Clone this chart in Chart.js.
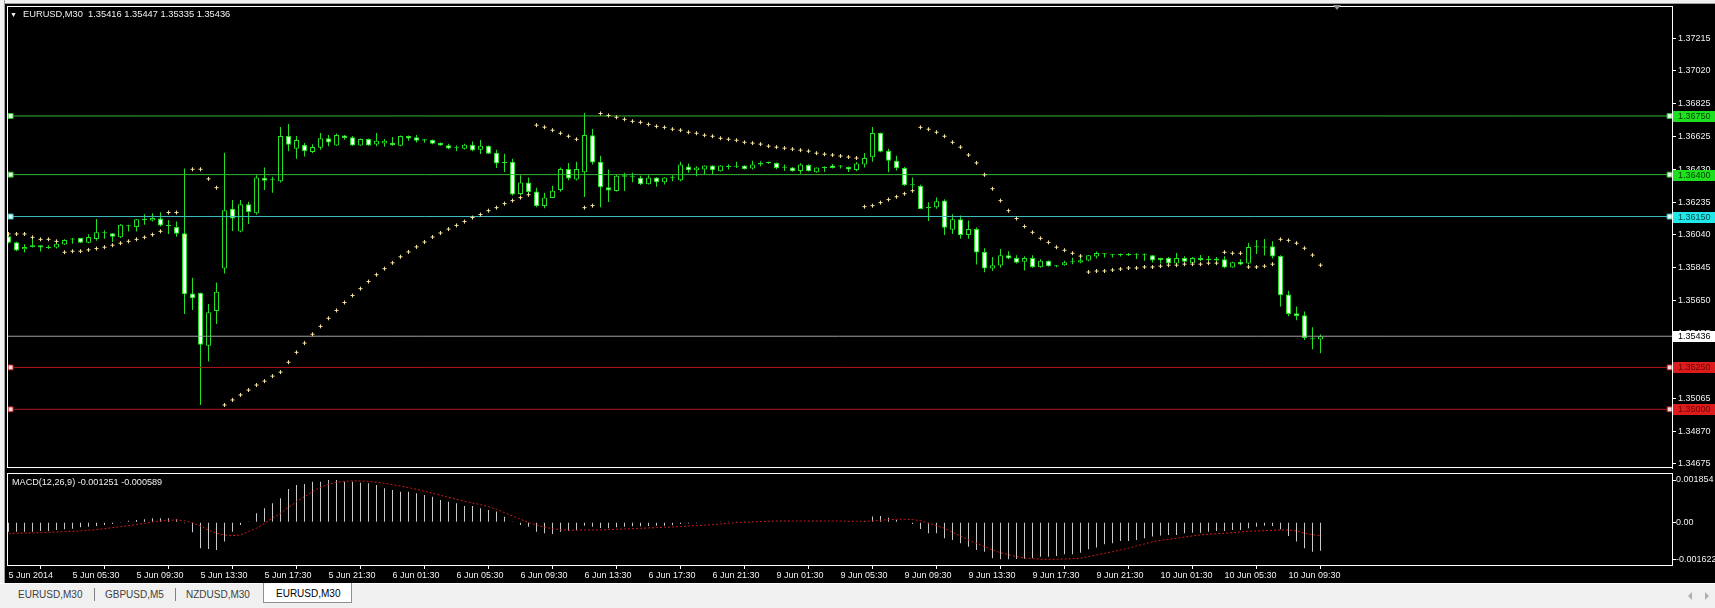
<!DOCTYPE html>
<html>
<head>
<meta charset="utf-8">
<title>EURUSD,M30</title>
<script src="https://cdn.jsdelivr.net/npm/chart.js@4.4.1/dist/chart.umd.min.js"></script>
<style>
html,body{margin:0;padding:0;background:#000;overflow:hidden}
#wrap{position:relative;width:1715px;height:608px;background:#000;font-family:"Liberation Sans",Arial,sans-serif}
canvas{position:absolute;left:0}
#main{top:0}
#macd{top:473px}
.txt{position:absolute;color:#f0f0f0;font-size:9px;line-height:11px;white-space:pre}
#topbar{position:absolute;left:0;top:0;width:1715px;height:3px;background:#f0f0f0;border-bottom:1px solid #a0a0a0}
#leftbar{position:absolute;left:0;top:0;width:4px;height:584px;background:#f0f0f0;border-right:1px solid #a0a0a0}
#shift{position:absolute;left:1333px;top:5px;width:0;height:0;border-left:4px solid transparent;border-right:4px solid transparent;border-top:5px solid #909090}
#tabs{position:absolute;left:0;top:583px;width:1715px;height:25px;background:#f0f0f0;border-top:1px solid #fff}
.tab{position:absolute;top:5px;font-size:10px;line-height:12px;color:#404040;white-space:pre}
.sep{position:absolute;top:4px;width:1px;height:13px;background:#808080}
#active{position:absolute;left:263px;top:-1px;width:87px;height:19px;background:#fff;border:1px solid #909090;border-top:none}
#active span{position:absolute;left:12px;top:5px;font-size:10px;line-height:12px;color:#000}
.arrow{position:absolute;top:8px;width:0;height:0;border-top:4px solid transparent;border-bottom:4px solid transparent}
</style>
</head>
<body>
<div id="wrap">
  <canvas id="main" width="1715" height="473"></canvas>
  <canvas id="macd" width="1715" height="111"></canvas>
  <div id="topbar"></div>
  <div id="leftbar"></div>
  <div id="shift"></div>
  <div class="txt" style="left:10px;top:9px;font-size:7px;">▼</div>
  <div class="txt" style="left:23px;top:9px;font-size:9.3px;">EURUSD,M30  1.35416 1.35447 1.35335 1.35436</div>
  <div class="txt" style="left:12px;top:477px;font-size:9.1px;">MACD(12,26,9) -0.001251 -0.000589</div>
  <div id="tabs">
    <span class="tab" style="left:18px">EURUSD,M30</span>
    <div class="sep" style="left:94px"></div>
    <span class="tab" style="left:105px">GBPUSD,M5</span>
    <div class="sep" style="left:175px"></div>
    <span class="tab" style="left:186px">NZDUSD,M30</span>
    <div id="active"><span>EURUSD,M30</span></div>
    <div class="arrow" style="left:1688px;border-right:4px solid #b0b0b0"></div>
    <div class="arrow" style="left:1705px;border-left:4px solid #b0b0b0"></div>
  </div>
</div>
<script>
// EURUSD M30, 5 Jun 01:30 .. 10 Jun 11:30 (165 bars)
const opens = [
1.36032,1.35997,1.35955,1.35967,1.35979,1.35963,1.35965,1.35983,1.36014,1.36022,
1.35994,1.36016,1.36053,1.36050,1.36026,1.36093,1.36087,1.36130,1.36126,1.36138,
1.36093,1.36087,1.36050,1.35691,1.35695,1.35379,1.35586,1.35840,1.36197,1.36061,
1.36223,1.36170,1.36381,1.36367,1.36361,1.36631,1.36554,1.36578,1.36535,1.36560,
1.36617,1.36574,1.36633,1.36623,1.36574,1.36613,1.36580,1.36586,1.36590,1.36572,
1.36631,1.36623,1.36611,1.36607,1.36590,1.36576,1.36558,1.36554,1.36578,1.36548,
1.36572,1.36531,1.36470,1.36477,1.36284,1.36353,1.36300,1.36213,1.36260,1.36308,
1.36434,1.36371,1.36414,1.36635,1.36477,1.36325,1.36302,1.36396,1.36385,1.36381,
1.36343,1.36383,1.36355,1.36383,1.36367,1.36448,1.36426,1.36430,1.36454,1.36420,
1.36446,1.36448,1.36454,1.36436,1.36460,1.36470,1.36470,1.36442,1.36442,1.36422,
1.36458,1.36414,1.36440,1.36454,1.36452,1.36446,1.36428,1.36460,1.36503,1.36649,
1.36543,1.36483,1.36440,1.36337,1.36334,1.36209,1.36205,1.36245,1.36071,1.36134,
1.36040,1.36075,1.35939,1.35840,1.35858,1.35919,1.35902,1.35881,1.35902,1.35848,
1.35886,1.35854,1.35860,1.35878,1.35876,1.35888,1.35911,1.35931,1.35925,1.35921,
1.35927,1.35923,1.35923,1.35919,1.35902,1.35902,1.35870,1.35902,1.35872,1.35902,
1.35892,1.35898,1.35896,1.35846,1.35880,1.35870,1.35973,1.35967,1.35973,1.35915,
1.35685,1.35573,1.35561,1.35424,1.35416];
const highs = [
1.36046,1.35999,1.35985,1.36032,1.35979,1.35979,1.35993,1.36014,1.36022,1.36024,
1.36044,1.36136,1.36069,1.36051,1.36105,1.36101,1.36136,1.36164,1.36170,1.36176,
1.36130,1.36120,1.36436,1.35785,1.35695,1.35628,1.35756,1.36531,1.36249,1.36249,
1.36239,1.36397,1.36442,1.36387,1.36684,1.36702,1.36631,1.36588,1.36582,1.36649,
1.36637,1.36645,1.36637,1.36631,1.36615,1.36615,1.36649,1.36613,1.36625,1.36633,
1.36633,1.36637,1.36613,1.36609,1.36591,1.36584,1.36574,1.36584,1.36597,1.36607,
1.36574,1.36548,1.36525,1.36495,1.36397,1.36383,1.36322,1.36292,1.36334,1.36442,
1.36470,1.36477,1.36767,1.36673,1.36513,1.36430,1.36399,1.36412,1.36412,1.36393,
1.36397,1.36385,1.36385,1.36397,1.36477,1.36466,1.36450,1.36456,1.36456,1.36456,
1.36462,1.36477,1.36456,1.36483,1.36480,1.36477,1.36472,1.36460,1.36446,1.36468,
1.36462,1.36443,1.36450,1.36464,1.36456,1.36448,1.36476,1.36529,1.36684,1.36652,
1.36554,1.36513,1.36446,1.36383,1.36340,1.36235,1.36263,1.36253,1.36164,1.36156,
1.36126,1.36085,1.35961,1.35908,1.35957,1.35943,1.35919,1.35913,1.35919,1.35896,
1.35888,1.35860,1.35886,1.35904,1.35908,1.35921,1.35941,1.35933,1.35927,1.35929,
1.35933,1.35931,1.35929,1.35921,1.35904,1.35908,1.35933,1.35913,1.35908,1.35921,
1.35915,1.35908,1.35913,1.35880,1.35896,1.35993,1.36010,1.36016,1.36002,1.35919,
1.35708,1.35614,1.35584,1.35490,1.35447];
const lows = [
1.35989,1.35943,1.35935,1.35965,1.35941,1.35957,1.35959,1.35981,1.35988,1.35992,
1.35990,1.36006,1.36018,1.35998,1.36022,1.36061,1.36061,1.36101,1.36120,1.36091,
1.36046,1.36030,1.35569,1.35592,1.35026,1.35286,1.35509,1.35810,1.36064,1.36057,
1.36105,1.36160,1.36308,1.36292,1.36353,1.36539,1.36495,1.36508,1.36529,1.36548,
1.36570,1.36572,1.36608,1.36572,1.36572,1.36572,1.36570,1.36566,1.36572,1.36570,
1.36602,1.36591,1.36590,1.36582,1.36572,1.36552,1.36540,1.36550,1.36540,1.36523,
1.36523,1.36440,1.36416,1.36276,1.36278,1.36284,1.36205,1.36199,1.36259,1.36298,
1.36367,1.36365,1.36266,1.36461,1.36205,1.36237,1.36300,1.36302,1.36355,1.36338,
1.36341,1.36328,1.36341,1.36361,1.36361,1.36412,1.36390,1.36402,1.36400,1.36418,
1.36430,1.36440,1.36430,1.36430,1.36450,1.36464,1.36432,1.36422,1.36418,1.36406,
1.36418,1.36412,1.36416,1.36436,1.36436,1.36416,1.36420,1.36442,1.36477,1.36533,
1.36414,1.36424,1.36334,1.36318,1.36193,1.36123,1.36197,1.36040,1.36046,1.36018,
1.36018,1.35864,1.35817,1.35825,1.35844,1.35896,1.35870,1.35828,1.35844,1.35844,
1.35852,1.35848,1.35856,1.35866,1.35872,1.35884,1.35899,1.35905,1.35905,1.35911,
1.35915,1.35897,1.35887,1.35876,1.35870,1.35866,1.35866,1.35878,1.35868,1.35884,
1.35884,1.35884,1.35842,1.35844,1.35860,1.35864,1.35927,1.35917,1.35899,1.35614,
1.35555,1.35531,1.35413,1.35359,1.35335];
const closes = [
1.35994,1.35947,1.35969,1.35979,1.35965,1.35962,1.35987,1.36010,1.36013,1.35994,
1.36028,1.36057,1.36050,1.36030,1.36101,1.36092,1.36134,1.36129,1.36142,1.36097,
1.36093,1.36047,1.35687,1.35663,1.35385,1.35579,1.35702,1.36187,1.36138,1.36223,
1.36177,1.36383,1.36364,1.36366,1.36631,1.36578,1.36607,1.36539,1.36565,1.36617,
1.36591,1.36637,1.36619,1.36574,1.36613,1.36574,1.36602,1.36602,1.36576,1.36631,
1.36615,1.36602,1.36603,1.36584,1.36574,1.36556,1.36557,1.36578,1.36544,1.36572,
1.36525,1.36466,1.36469,1.36282,1.36353,1.36296,1.36213,1.36264,1.36304,1.36434,
1.36377,1.36434,1.36637,1.36473,1.36325,1.36306,1.36394,1.36387,1.36384,1.36343,
1.36383,1.36355,1.36383,1.36382,1.36460,1.36426,1.36442,1.36454,1.36426,1.36454,
1.36445,1.36447,1.36432,1.36460,1.36470,1.36469,1.36438,1.36441,1.36420,1.36460,
1.36420,1.36442,1.36439,1.36440,1.36448,1.36430,1.36466,1.36499,1.36649,1.36537,
1.36483,1.36438,1.36337,1.36336,1.36195,1.36199,1.36241,1.36083,1.36134,1.36040,
1.36075,1.35935,1.35840,1.35860,1.35919,1.35899,1.35875,1.35902,1.35848,1.35886,
1.35854,1.35853,1.35878,1.35884,1.35890,1.35919,1.35933,1.35925,1.35919,1.35920,
1.35919,1.35922,1.35922,1.35888,1.35890,1.35870,1.35902,1.35881,1.35902,1.35890,
1.35891,1.35888,1.35846,1.35878,1.35864,1.35969,1.35967,1.35966,1.35911,1.35681,
1.35569,1.35557,1.35426,1.35418,1.35436];
// Parabolic SAR
const sar = [
1.36046,1.36046,1.36046,1.36026,1.36014,1.36014,1.36002,1.35937,1.35943,1.35943,
1.35951,1.35959,1.35967,1.35979,1.35991,1.36002,1.36014,1.36026,1.36042,1.36062,
1.36174,1.36174,1.36032,1.36432,1.36432,1.36375,1.36322,1.35026,1.35056,1.35086,
1.35115,1.35145,1.35168,1.35198,1.35222,1.35281,1.35340,1.35395,1.35448,1.35495,
1.35543,1.35590,1.35637,1.35679,1.35720,1.35762,1.35803,1.35839,1.35874,1.35910,
1.35939,1.35969,1.35998,1.36028,1.36052,1.36075,1.36097,1.36120,1.36144,1.36162,
1.36185,1.36203,1.36227,1.36245,1.36263,1.36280,1.36695,1.36683,1.36665,1.36647,
1.36629,1.36611,1.36203,1.36215,1.36765,1.36753,1.36742,1.36730,1.36718,1.36712,
1.36700,1.36688,1.36682,1.36671,1.36665,1.36653,1.36647,1.36635,1.36629,1.36617,
1.36611,1.36605,1.36593,1.36588,1.36582,1.36570,1.36564,1.36558,1.36552,1.36546,
1.36540,1.36528,1.36522,1.36517,1.36511,1.36505,1.36499,1.36209,1.36215,1.36233,
1.36251,1.36268,1.36286,1.36304,1.36682,1.36671,1.36653,1.36629,1.36593,1.36564,
1.36517,1.36470,1.36399,1.36316,1.36245,1.36185,1.36138,1.36091,1.36056,1.36020,
1.35996,1.35967,1.35949,1.35931,1.35914,1.35819,1.35825,1.35825,1.35831,1.35837,
1.35843,1.35843,1.35849,1.35849,1.35854,1.35860,1.35860,1.35866,1.35866,1.35866,
1.35872,1.35872,1.35937,1.35931,1.35931,1.35849,1.35849,1.35854,1.35866,1.36014,
1.36008,1.35991,1.35961,1.35920,1.35860];
// MACD(12,26,9): main (histogram) and signal
const macdMain = [
-0.000409,-0.000409,-0.000409,-0.000409,-0.000380,-0.000380,-0.000336,-0.000307,-0.000278,-0.000219,
-0.000190,-0.000161,-0.000117,-0.000073,-0.000010,0.000073,0.000102,0.000131,0.000175,0.000175,
0.000175,0.000131,-0.000044,-0.000438,-0.001140,-0.001169,-0.001213,-0.000847,-0.000409,-0.000117,
0.000030,0.000394,0.000614,0.000833,0.001052,0.001461,0.001636,0.001680,0.001782,0.001782,
0.001854,0.001854,0.001782,0.001782,0.001738,0.001709,0.001636,0.001490,0.001417,0.001344,
0.001344,0.001271,0.001198,0.001125,0.000979,0.000906,0.000833,0.000716,0.000716,0.000614,
0.000541,0.000468,0.000248,0.000015,-0.000117,-0.000190,-0.000409,-0.000482,-0.000511,-0.000409,
-0.000380,-0.000336,-0.000146,-0.000190,-0.000248,-0.000263,-0.000219,-0.000190,-0.000175,-0.000175,
-0.000161,-0.000146,-0.000146,-0.000131,-0.000073,-0.000058,-0.000044,0.000000,0.000020,0.000030,
0.000030,0.000040,0.000040,0.000040,0.000040,0.000030,0.000030,0.000030,0.000020,0.000020,
0.000030,0.000030,0.000020,0.000020,0.000020,0.000010,0.000020,0.000060,0.000250,0.000280,
0.000204,0.000102,0.000000,-0.000073,-0.000292,-0.000482,-0.000482,-0.000701,-0.000774,-0.000920,
-0.001067,-0.001213,-0.001286,-0.001578,-0.001622,-0.001622,-0.001607,-0.001593,-0.001563,-0.001505,
-0.001505,-0.001476,-0.001403,-0.001403,-0.001330,-0.001184,-0.001110,-0.000964,-0.000920,-0.000818,
-0.000818,-0.000774,-0.000701,-0.000628,-0.000584,-0.000555,-0.000555,-0.000482,-0.000453,-0.000453,
-0.000409,-0.000380,-0.000380,-0.000336,-0.000336,-0.000263,-0.000190,-0.000146,-0.000161,-0.000307,
-0.000599,-0.000847,-0.001140,-0.001286,-0.001251];
const macdSignal = [
-0.000482,-0.000482,-0.000468,-0.000468,-0.000453,-0.000438,-0.000424,-0.000409,-0.000394,-0.000380,
-0.000351,-0.000321,-0.000278,-0.000234,-0.000190,-0.000146,-0.000102,-0.000044,0.000015,0.000058,
0.000088,0.000102,0.000073,-0.000015,-0.000161,-0.000336,-0.000482,-0.000555,-0.000584,-0.000555,
-0.000409,-0.000263,-0.000044,0.000175,0.000394,0.000657,0.000906,0.001125,0.001344,0.001534,
0.001666,0.001753,0.001797,0.001812,0.001812,0.001797,0.001753,0.001709,0.001651,0.001592,
0.001519,0.001446,0.001359,0.001271,0.001183,0.001096,0.001008,0.000920,0.000847,0.000774,
0.000687,0.000570,0.000424,0.000278,0.000131,-0.000015,-0.000117,-0.000219,-0.000278,-0.000321,
-0.000351,-0.000351,-0.000336,-0.000336,-0.000336,-0.000321,-0.000307,-0.000292,-0.000278,-0.000263,
-0.000248,-0.000234,-0.000219,-0.000205,-0.000190,-0.000161,-0.000146,-0.000131,-0.000102,-0.000073,
-0.000044,-0.000015,0.000000,0.000015,0.000029,0.000044,0.000058,0.000058,0.000058,0.000058,
0.000058,0.000058,0.000058,0.000058,0.000058,0.000044,0.000044,0.000044,0.000058,0.000088,
0.000117,0.000131,0.000131,0.000117,0.000073,-0.000044,-0.000146,-0.000263,-0.000438,-0.000599,
-0.000774,-0.000920,-0.001067,-0.001213,-0.001330,-0.001417,-0.001505,-0.001563,-0.001592,-0.001622,
-0.001622,-0.001622,-0.001607,-0.001592,-0.001578,-0.001505,-0.001432,-0.001359,-0.001286,-0.001213,
-0.001140,-0.001037,-0.000950,-0.000847,-0.000789,-0.000745,-0.000701,-0.000643,-0.000599,-0.000555,
-0.000526,-0.000497,-0.000482,-0.000453,-0.000424,-0.000394,-0.000380,-0.000365,-0.000351,-0.000336,
-0.000336,-0.000380,-0.000482,-0.000541,-0.000589];
const timeLabels = ['5 Jun 2014','5 Jun 05:30','5 Jun 09:30','5 Jun 13:30','5 Jun 17:30','5 Jun 21:30',
  '6 Jun 01:30','6 Jun 05:30','6 Jun 09:30','6 Jun 13:30','6 Jun 17:30','6 Jun 21:30',
  '9 Jun 01:30','9 Jun 05:30','9 Jun 09:30','9 Jun 13:30','9 Jun 17:30','9 Jun 21:30',
  '10 Jun 01:30','10 Jun 05:30','10 Jun 09:30'];
const priceTicks = [1.37215,1.37020,1.36825,1.36625,1.36430,1.36235,1.36040,1.35845,1.35650,1.35455,1.35260,1.35065,1.34870,1.34675];
const macdTicks = [0.001854, 0, -0.001622];
const levels = [1.36750, 1.36400, 1.36150, 1.35250, 1.35000];
const bid = 1.35436;

const GREEN = '#22e022';
const X_MIN = -0.1875, X_MAX = 207.9375;   // 8 px per bar
const FONT = {family: 'Liberation Sans', size: 9};
const levelStyle = [
  {line: '#34b834', tag: '#1ee01e', text: '#003c00', fill: '#e0ffe0'},
  {line: '#34b834', tag: '#1ee01e', text: '#003c00', fill: '#e0ffe0'},
  {line: '#40c0c0', tag: '#20e8e8', text: '#004848', fill: '#e0ffff'},
  {line: '#b01616', tag: '#dc1c1c', text: '#700000', fill: '#ffe0e0'},
  {line: '#b01616', tag: '#dc1c1c', text: '#700000', fill: '#ffe0e0'}
];

const idx = opens.map((_, i) => i);

const frame = {
  id: 'frame',
  beforeDraw(c) {
    const ctx = c.ctx;
    ctx.save(); ctx.fillStyle = '#000'; ctx.fillRect(0, 0, c.width, c.height); ctx.restore();
  },
  afterDraw(c) {
    const a = c.chartArea, ctx = c.ctx;
    ctx.save();
    ctx.strokeStyle = '#ffffff'; ctx.lineWidth = 1;
    ctx.strokeRect(a.left + 0.5, a.top + 0.5, a.right - a.left, a.bottom - a.top - (c.canvas.id === 'main' ? 1 : 0));
    if (c.canvas.id === 'main') {
      const y = c.scales.y;
      const tags = levels.map((v, k) => ({v, bg: levelStyle[k].tag, fg: levelStyle[k].text}));
      tags.push({v: bid, bg: '#ffffff', fg: '#000000'});
      ctx.font = '9px "Liberation Sans"';
      ctx.textBaseline = 'middle';
      tags.forEach(t => {
        const py = Math.round(y.getPixelForValue(t.v));
        ctx.fillStyle = t.bg;
        ctx.fillRect(a.right + 1, py - 5, c.width - a.right - 1, 11);
        ctx.fillStyle = t.fg;
        ctx.fillText(t.v.toFixed(5), a.right + 6, py + 0.5);
      });
    }
    ctx.restore();
  }
};

const levelSets = levels.map((v, k) => ({
  type: 'line', order: 1,
  data: [{x: X_MIN - 1, y: v}, {x: X_MIN + 0.45, y: v}, {x: X_MAX - 0.3, y: v}, {x: X_MAX + 1, y: v}],
  borderColor: levelStyle[k].line, borderWidth: 1,
  pointRadius: [0, 3.5, 3.5, 0], pointStyle: 'rect',
  pointBackgroundColor: levelStyle[k].fill, pointBorderColor: levelStyle[k].line, pointBorderWidth: 1
}));
levelSets.push({
  type: 'line', order: 1,
  data: [{x: X_MIN - 1, y: bid}, {x: X_MAX + 1, y: bid}],
  borderColor: '#a0a0a0', borderWidth: 1, pointRadius: 0
});

new Chart(document.getElementById('main'), {
  type: 'bar',
  data: {
    datasets: [
      {
        type: 'line', order: 0,
        data: idx.map(i => ({x: i, y: sar[i]})),
        showLine: false, pointStyle: 'cross', pointRadius: 2,
        pointBorderColor: '#f2e2a2', pointBorderWidth: 1
      },
      ...levelSets,
      {
        order: 2, grouped: false, barThickness: 5, minBarLength: 1,
        data: idx.map(i => ({x: i, y: [opens[i], closes[i]]})),
        backgroundColor: idx.map(i => closes[i] > opens[i] ? '#000000' : '#ffffff'),
        borderColor: GREEN, borderWidth: 1, borderSkipped: false, inflateAmount: 0
      },
      {
        order: 3, grouped: false, barThickness: 1,
        data: idx.map(i => ({x: i, y: [lows[i], highs[i]]})),
        backgroundColor: GREEN, borderWidth: 0, inflateAmount: 0
      }
    ]
  },
  options: {
    responsive: false, animation: false, events: [],
    layout: {padding: {left: 7, top: 6, right: 0, bottom: 1}},
    plugins: {legend: {display: false}, tooltip: {enabled: false}},
    scales: {
      x: {type: 'linear', min: X_MIN, max: X_MAX, offset: false, display: false},
      y: {
        position: 'right', min: 1.34650, max: 1.37406, bounds: 'data',
        afterBuildTicks: s => { s.ticks = priceTicks.map(v => ({value: v})); },
        afterFit: s => { s.width = 43; s.paddingTop = 0; s.paddingBottom = 0; },
        grid: {drawOnChartArea: false, color: '#ffffff', tickLength: 4},
        border: {display: true, color: '#ffffff'},
        ticks: {color: '#f0f0f0', font: FONT, padding: 2, autoSkip: false, callback: v => v.toFixed(5)}
      }
    }
  },
  plugins: [frame]
});

new Chart(document.getElementById('macd'), {
  type: 'bar',
  data: {
    datasets: [
      {
        type: 'line', order: 0,
        data: idx.map(i => ({x: i, y: macdSignal[i]})),
        borderColor: '#d01818', borderWidth: 1, borderDash: [2, 2], pointRadius: 0, tension: 0
      },
      {
        order: 1, grouped: false, barThickness: 1,
        data: idx.map(i => ({x: i, y: macdMain[i]})),
        backgroundColor: '#c8c8c8', borderWidth: 0, inflateAmount: 0
      }
    ]
  },
  options: {
    responsive: false, animation: false, events: [],
    layout: {padding: {left: 7, top: 0, right: 0, bottom: 0}},
    plugins: {legend: {display: false}, tooltip: {enabled: false}},
    scales: {
      x: {
        type: 'linear', min: X_MIN, max: X_MAX, offset: false, bounds: 'data',
        afterBuildTicks: s => { s.ticks = timeLabels.map((_, k) => ({value: k * 8})); },
        afterFit: s => { s.height = 19; s.paddingLeft = 0; s.paddingRight = 0; },
        grid: {drawOnChartArea: false, color: '#ffffff', tickLength: 4},
        border: {display: true, color: '#ffffff'},
        ticks: {color: '#f0f0f0', font: FONT, padding: 1, align: 'start', maxRotation: 0, autoSkip: false,
          callback: v => timeLabels[Math.round(v / 8)]}
      },
      y: {
        position: 'right', min: -0.001872, max: 0.002161, bounds: 'data',
        afterBuildTicks: s => { s.ticks = macdTicks.map(v => ({value: v})); },
        afterFit: s => { s.width = 43; s.paddingTop = 0; s.paddingBottom = 0; },
        grid: {drawOnChartArea: false, color: '#ffffff', tickLength: 4},
        border: {display: true, color: '#ffffff'},
        ticks: {color: '#f0f0f0', font: FONT, padding: 0, autoSkip: false,
          callback: v => v === 0 ? '0.00' : v.toFixed(6)}
      }
    }
  },
  plugins: [frame]
});
</script>
</body>
</html>
